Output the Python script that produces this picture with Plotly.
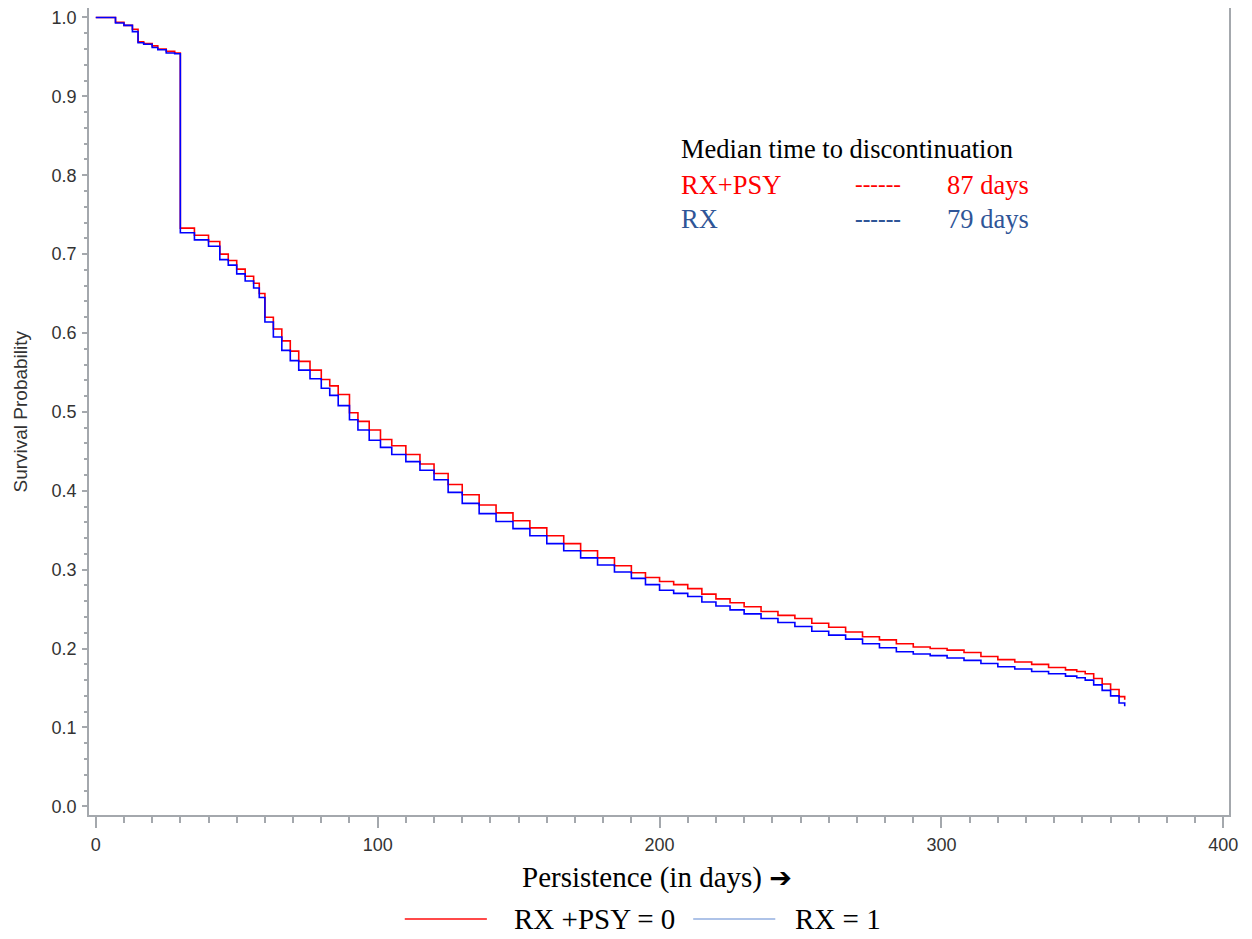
import plotly.graph_objects as go

# Kaplan-Meier style survival curves (days, probability)
days = [0, 7, 10, 13, 15, 17, 20, 22, 25, 28, 30, 35, 40, 44, 47, 50, 53, 56, 58, 60,
        63, 66, 69, 72, 76, 80, 83, 86, 90, 93, 97, 101, 105, 110, 115, 120, 125, 130,
        136, 142, 148, 154, 160, 166, 172, 178, 184, 190, 195, 200, 205, 210, 215, 220,
        225, 230, 236, 242, 248, 254, 260, 266, 272, 278, 284, 290, 296, 302, 308, 314,
        320, 326, 332, 338, 344, 348, 351, 354, 357, 360, 363, 365]

rx_psy = [1.000, 0.994, 0.990, 0.985, 0.969, 0.967, 0.964, 0.960, 0.957, 0.955, 0.733,
          0.724, 0.716, 0.700, 0.692, 0.681, 0.672, 0.663, 0.650, 0.620, 0.605, 0.590,
          0.577, 0.564, 0.553, 0.541, 0.533, 0.522, 0.499, 0.488, 0.477, 0.465, 0.457,
          0.446, 0.434, 0.422, 0.408, 0.395, 0.382, 0.372, 0.362, 0.353, 0.343, 0.333,
          0.324, 0.315, 0.305, 0.296, 0.290, 0.285, 0.281, 0.276, 0.269, 0.263, 0.258,
          0.253, 0.247, 0.242, 0.238, 0.232, 0.227, 0.221, 0.215, 0.211, 0.206, 0.202,
          0.200, 0.198, 0.195, 0.190, 0.186, 0.183, 0.180, 0.176, 0.173, 0.171, 0.168,
          0.162, 0.155, 0.148, 0.139, 0.135]

rx = [1.000, 0.993, 0.990, 0.982, 0.968, 0.966, 0.962, 0.959, 0.955, 0.954, 0.727,
      0.718, 0.710, 0.693, 0.686, 0.675, 0.666, 0.657, 0.645, 0.614, 0.595, 0.578,
      0.565, 0.553, 0.542, 0.530, 0.521, 0.508, 0.490, 0.477, 0.464, 0.455, 0.446,
      0.437, 0.426, 0.414, 0.398, 0.384, 0.371, 0.361, 0.352, 0.343, 0.333, 0.324,
      0.315, 0.306, 0.297, 0.289, 0.281, 0.274, 0.270, 0.266, 0.259, 0.254, 0.249,
      0.244, 0.238, 0.233, 0.228, 0.222, 0.217, 0.212, 0.206, 0.201, 0.196, 0.193,
      0.191, 0.188, 0.185, 0.181, 0.177, 0.174, 0.171, 0.168, 0.165, 0.163, 0.160,
      0.154, 0.147, 0.140, 0.131, 0.127]

group_names = ["RX +PSY = 0", "RX = 1"]
median_days = [87, 79]

RED = "#ff0000"
BLUE = "#0000ff"
TXT_BLUE = "#2f5597"
AXIS_GREY = "#a4a8ad"
SERIF = "Liberation Serif, Times New Roman, serif"
SANS = "Liberation Sans, Arial, sans-serif"

fig = go.Figure()

fig.add_trace(go.Scatter(x=days, y=rx_psy, mode="lines", line_shape="hv",
                         line=dict(color=RED, width=1.6), name=group_names[0]))
fig.add_trace(go.Scatter(x=days, y=rx, mode="lines", line_shape="hv",
                         line=dict(color=BLUE, width=1.6), name=group_names[1]))

# hand-made legend under the axis title
fig.add_shape(type="line", xref="paper", yref="paper", x0=0.277, x1=0.349,
              y0=-0.129, y1=-0.129, line=dict(color="#ff4a4a", width=2))
fig.add_shape(type="line", xref="paper", yref="paper", x0=0.530, x1=0.602,
              y0=-0.129, y1=-0.129, line=dict(color="#aec3e8", width=2))
fig.add_annotation(xref="paper", yref="paper", x=0.371, y=-0.129, xanchor="left",
                   yanchor="middle", showarrow=False, text=group_names[0],
                   font=dict(family=SERIF, size=29, color="black"))
fig.add_annotation(xref="paper", yref="paper", x=0.6175, y=-0.129, xanchor="left",
                   yanchor="middle", showarrow=False, text=group_names[1],
                   font=dict(family=SERIF, size=29, color="black"))

# axis titles
arrow = '<span style="font-family:DejaVu Sans;font-size:27px"><b>➔</b></span>'
fig.add_annotation(xref="paper", yref="paper", x=0.4985, y=-0.078, xanchor="center",
                   yanchor="middle", showarrow=False, text="Persistence (in days) " + arrow,
                   font=dict(family=SERIF, size=29, color="black"))
fig.add_annotation(xref="paper", yref="paper", x=-0.0605, y=0.5, xanchor="center",
                   yanchor="middle", showarrow=False, text="Survival Probability",
                   textangle=-90, font=dict(family=SANS, size=19, color="#333333"))

# median box
fig.add_annotation(xref="paper", yref="paper", x=0.5175, y=0.8253, xanchor="left",
                   yanchor="middle", showarrow=False, text="Median time to discontinuation",
                   font=dict(family=SERIF, size=26.5, color="black"))
rows = [("RX+PSY", RED, "------", median_days[0], 0.7807),
        ("RX", TXT_BLUE, "<b>------</b>", median_days[1], 0.7385)]
for label, col, dash, med, yy in rows:
    fig.add_annotation(xref="paper", yref="paper", x=0.5175, y=yy, xanchor="left",
                       yanchor="middle", showarrow=False, text=label,
                       font=dict(family=SERIF, size=26.5, color=col))
    fig.add_annotation(xref="paper", yref="paper", x=0.670, y=yy, xanchor="left",
                       yanchor="middle", showarrow=False, text=dash,
                       font=dict(family=SERIF, size=23, color=col))
    fig.add_annotation(xref="paper", yref="paper", x=0.751, y=yy, xanchor="left",
                       yanchor="middle", showarrow=False, text=f"{med} days",
                       font=dict(family=SERIF, size=26.5, color=col))

# the page body adds an 8px offset, so margins are trimmed to compensate
fig.update_layout(
    width=1252, height=939,
    margin=dict(l=81, r=31, t=0, b=132, autoexpand=False),
    plot_bgcolor="white", paper_bgcolor="white",
    showlegend=False,
    font=dict(family=SANS, size=18, color="#333333"),
)
fig.update_xaxes(
    range=[-2.4, 402], showgrid=False, zeroline=False, automargin=False,
    showline=True, linecolor=AXIS_GREY, linewidth=1.5, mirror=True,
    tickmode="array", tickvals=[0, 100, 200, 300, 400],
    ticks="outside", ticklen=11, tickcolor=AXIS_GREY, tickwidth=1.5,
    ticklabelstandoff=2, ticklabeloverflow="allow",
    minor=dict(dtick=10, tick0=0, ticks="outside", ticklen=6, tickcolor=AXIS_GREY, tickwidth=1.5),
    tickfont=dict(family=SANS, size=18, color="#333333"),
)
fig.update_yaxes(
    range=[-0.011, 1.012], showgrid=False, zeroline=False, automargin=False,
    showline=True, linecolor=AXIS_GREY, linewidth=1.5, mirror=True,
    tickmode="linear", tick0=0, dtick=0.1, tickformat=".1f",
    ticks="outside", ticklen=5, tickcolor=AXIS_GREY, tickwidth=1.5,
    ticklabelstandoff=2, ticklabeloverflow="allow",
    minor=dict(dtick=0.02, tick0=0, ticks="outside", ticklen=3, tickcolor=AXIS_GREY, tickwidth=1.5),
    tickfont=dict(family=SANS, size=18, color="#333333"),
)

fig.write_html("out.html")
